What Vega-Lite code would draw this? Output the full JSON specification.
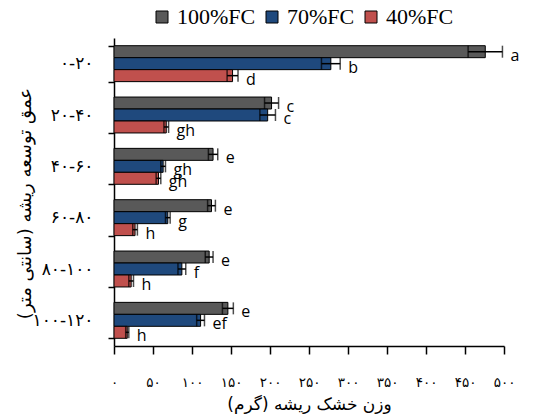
{
  "$schema": "https://vega.github.io/schema/vega-lite/v6.json",
  "width": 390,
  "height": 308,
  "autosize": {"type": "none"},
  "padding": {"left": 114, "top": 38, "right": 38, "bottom": 73},
  "background": "white",
  "config": {
    "view": {"stroke": null},
    "axis": {"domainColor": "black", "tickColor": "black", "labelColor": "black", "titleColor": "black", "grid": false, "domainWidth": 1.5, "tickWidth": 1.5},
    "axisX": {
      "labelOverlap": false,
      "labelFlush": false,
      "values": [0, 50, 100, 150, 200, 250, 300, 350, 400, 450, 500],
      "format": "d",
      "labelExpr": "replace(replace(replace(replace(replace(replace(replace(replace(replace(replace(datum.label, regexp('0','g'), '۰'), regexp('1','g'), '۱'), regexp('2','g'), '۲'), regexp('3','g'), '۳'), regexp('4','g'), '۴'), regexp('5','g'), '۵'), regexp('6','g'), '۶'), regexp('7','g'), '۷'), regexp('8','g'), '۸'), regexp('9','g'), '۹')",
      "titleFont": "DejaVu Sans", "titleFontSize": 17, "titleFontWeight": "normal",
      "titlePadding": 8,
      "labelFont": "DejaVu Sans", "labelFontSize": 13.5,
      "labelPadding": 21, "tickSize": 8
    }
  },
  "data": {
    "values": [
      {"depth": "۰-۲۰", "treatment": "100%FC", "value": 476, "err": 22, "sig": "a"},
      {"depth": "۰-۲۰", "treatment": "70%FC", "value": 278, "err": 12, "sig": "b"},
      {"depth": "۰-۲۰", "treatment": "40%FC", "value": 152, "err": 7, "sig": "d"},
      {"depth": "۲۰-۴۰", "treatment": "100%FC", "value": 202, "err": 9, "sig": "c"},
      {"depth": "۲۰-۴۰", "treatment": "70%FC", "value": 197, "err": 10, "sig": "c"},
      {"depth": "۲۰-۴۰", "treatment": "40%FC", "value": 67, "err": 3, "sig": "gh"},
      {"depth": "۴۰-۶۰", "treatment": "100%FC", "value": 127, "err": 6, "sig": "e"},
      {"depth": "۴۰-۶۰", "treatment": "70%FC", "value": 63, "err": 3, "sig": "gh"},
      {"depth": "۴۰-۶۰", "treatment": "40%FC", "value": 57, "err": 3, "sig": "gh"},
      {"depth": "۶۰-۸۰", "treatment": "100%FC", "value": 125, "err": 5, "sig": "e"},
      {"depth": "۶۰-۸۰", "treatment": "70%FC", "value": 69, "err": 3, "sig": "g"},
      {"depth": "۶۰-۸۰", "treatment": "40%FC", "value": 27, "err": 3, "sig": "h"},
      {"depth": "۸۰-۱۰۰", "treatment": "100%FC", "value": 122, "err": 5, "sig": "e"},
      {"depth": "۸۰-۱۰۰", "treatment": "70%FC", "value": 87, "err": 5, "sig": "f"},
      {"depth": "۸۰-۱۰۰", "treatment": "40%FC", "value": 22, "err": 3, "sig": "h"},
      {"depth": "۱۰۰-۱۲۰", "treatment": "100%FC", "value": 146, "err": 7, "sig": "e"},
      {"depth": "۱۰۰-۱۲۰", "treatment": "70%FC", "value": 111, "err": 5, "sig": "ef"},
      {"depth": "۱۰۰-۱۲۰", "treatment": "40%FC", "value": 17, "err": 2, "sig": "h"}
    ]
  },
  "transform": [
    {"calculate": "datum.value - datum.err", "as": "lo"},
    {"calculate": "datum.value + datum.err", "as": "hi"}
  ],
  "encoding": {
    "y": {
      "field": "depth", "type": "nominal",
      "sort": ["۰-۲۰", "۲۰-۴۰", "۴۰-۶۰", "۶۰-۸۰", "۸۰-۱۰۰", "۱۰۰-۱۲۰"],
      "scale": {"paddingInner": 0.3, "paddingOuter": 0.15},
      "axis": {
        "title": "عمق توسعه ریشه (سانتی متر)",
        "titleFont": "DejaVu Sans", "titleFontSize": 18, "titleFontWeight": "normal",
        "titleX": -80, "titleY": 165,
        "labelFont": "DejaVu Sans", "labelFontSize": 17,
        "labelPadding": 15, "tickSize": 6, "tickBand": "extent"
      }
    },
    "yOffset": {"field": "treatment", "type": "nominal", "sort": ["100%FC", "70%FC", "40%FC"], "scale": {"paddingInner": 0, "paddingOuter": 0}}
  },
  "layer": [
    {
      "mark": {"type": "bar", "stroke": "black", "strokeWidth": 1},
      "encoding": {
        "x": {
          "field": "value", "type": "quantitative",
          "scale": {"domain": [0, 500], "nice": false, "zero": true},
          "axis": {"title": "وزن خشک ریشه (گرم)", "labelOverlap": false, "labelFlush": false}
        },
        "color": {
          "field": "treatment", "type": "nominal",
          "sort": ["100%FC", "70%FC", "40%FC"],
          "scale": {"domain": ["100%FC", "70%FC", "40%FC"], "range": ["#595959", "#1F497D", "#C0504D"]},
          "legend": {
            "title": null, "orient": "none", "direction": "horizontal",
            "legendX": 37, "legendY": -32,
            "symbolType": "square", "symbolSize": 144, "symbolStrokeColor": "black", "symbolStrokeWidth": 1, "symbolOpacity": 1,
            "labelFont": "Liberation Serif", "labelFontSize": 22, "labelColor": "black",
            "columnPadding": 5, "labelOffset": 4
          }
        }
      }
    },
    {
      "mark": {"type": "rule", "color": "black", "strokeWidth": 1.5},
      "encoding": {"x": {"field": "lo", "type": "quantitative", "axis": {"title": "وزن خشک ریشه (گرم)", "labelOverlap": false, "labelFlush": false}}, "x2": {"field": "hi"}}
    },
    {
      "mark": {"type": "tick", "color": "black", "thickness": 1.5, "size": 12},
      "encoding": {"x": {"field": "lo", "type": "quantitative", "axis": {"title": "وزن خشک ریشه (گرم)", "labelOverlap": false, "labelFlush": false}}}
    },
    {
      "mark": {"type": "tick", "color": "black", "thickness": 1.5, "size": 12},
      "encoding": {"x": {"field": "hi", "type": "quantitative", "axis": {"title": "وزن خشک ریشه (گرم)", "labelOverlap": false, "labelFlush": false}}}
    },
    {
      "mark": {"type": "text", "align": "left", "baseline": "middle", "dx": 8, "dy": 4, "font": "Open Sans", "fontSize": 16, "color": "black"},
      "encoding": {"x": {"field": "hi", "type": "quantitative", "axis": {"title": "وزن خشک ریشه (گرم)", "labelOverlap": false, "labelFlush": false}}, "text": {"field": "sig"}}
    }
  ]
}
